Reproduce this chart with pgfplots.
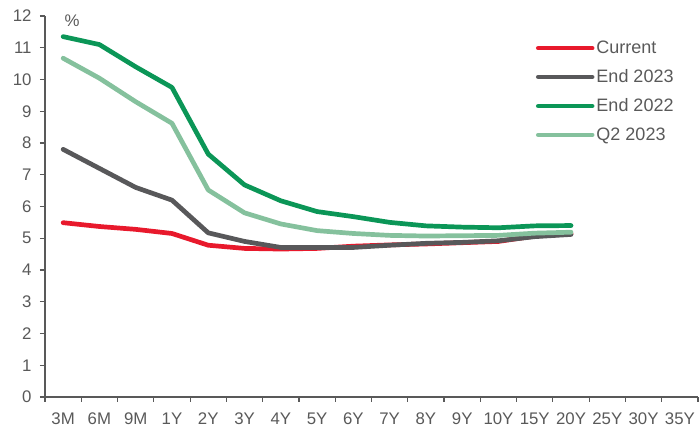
\documentclass[border=0pt]{standalone}
\usepackage{fontspec}
\setmainfont{Liberation Sans}
\usepackage{pgfplots}
\pgfplotsset{compat=1.18}
\definecolor{cur}{HTML}{E8192C}
\definecolor{eTT}{HTML}{58585A}
\definecolor{eTW}{HTML}{0B9657}
\definecolor{qtwo}{HTML}{85C19D}
\definecolor{axgray}{HTML}{595959}
\begin{document}
\begin{tikzpicture}[x=1pt,y=1pt]
\begin{axis}[
  at={(0,0)}, anchor=south west,
  width=653pt, height=381pt, scale only axis,
  xmin=-0.5, xmax=17.5, ymin=0, ymax=12,
  clip=false,
  axis lines*=left,
  axis line style={axgray, line width=1.5pt},
  tick align=outside,
  major tick length=5pt, minor tick length=5pt,
  ytick={0,...,12},
  ytick style={axgray, line width=1.2pt},
  xtick={0,...,17},
  xticklabels={3M,6M,9M,1Y,2Y,3Y,4Y,5Y,6Y,7Y,8Y,9Y,10Y,15Y,20Y,25Y,30Y,35Y},
  major x tick style={draw=none},
  minor xtick={-0.5,0.5,...,17.5},
  minor x tick style={axgray, line width=1.2pt},
  ticklabel style={font=\fontsize{16.8}{19}\selectfont, text=axgray},
  yticklabel style={xshift=-5pt},
  xticklabel style={yshift=-7pt},
  /pgf/number format/assume math mode=true,
  legend style={draw=none, fill=none, at={(0.747,0.945)}, anchor=north west,
    font=\fontsize{18}{21}\selectfont, text=axgray, row sep=10.5pt,
    nodes={inner sep=2pt}},
  legend cell align=left,
  legend image code/.code={\draw[#1, line width=4.5pt, line cap=round] (0pt,0pt) -- (54pt,0pt);},
  every axis plot/.append style={line width=4.7pt, line join=round, line cap=round, mark=none},
]
\addplot[cur] coordinates {(0,5.49)(1,5.37)(2,5.28)(3,5.15)(4,4.78)(5,4.68)(6,4.66)(7,4.68)(8,4.75)(9,4.79)(10,4.82)(11,4.86)(12,4.90)(13,5.07)(14,5.14)};
\addlegendentry{Current}
\addplot[eTT] coordinates {(0,7.80)(1,7.20)(2,6.60)(3,6.20)(4,5.17)(5,4.90)(6,4.71)(7,4.71)(8,4.71)(9,4.78)(10,4.84)(11,4.87)(12,4.92)(13,5.05)(14,5.12)};
\addlegendentry{End 2023}
\addplot[eTW] coordinates {(0,11.35)(1,11.10)(2,10.40)(3,9.75)(4,7.65)(5,6.68)(6,6.18)(7,5.84)(8,5.68)(9,5.50)(10,5.39)(11,5.35)(12,5.33)(13,5.39)(14,5.40)};
\addlegendentry{End 2022}
\addplot[qtwo] coordinates {(0,10.67)(1,10.04)(2,9.30)(3,8.62)(4,6.52)(5,5.80)(6,5.45)(7,5.24)(8,5.15)(9,5.09)(10,5.07)(11,5.08)(12,5.09)(13,5.16)(14,5.19)};
\addlegendentry{Q2 2023}
\node[text=axgray, font=\fontsize{16.8}{19}\selectfont] at (axis cs:0.25,11.85) {\%};
\end{axis}
\pgfresetboundingbox
\path (-45,-33) rectangle (654,397);
\end{tikzpicture}
\end{document}
